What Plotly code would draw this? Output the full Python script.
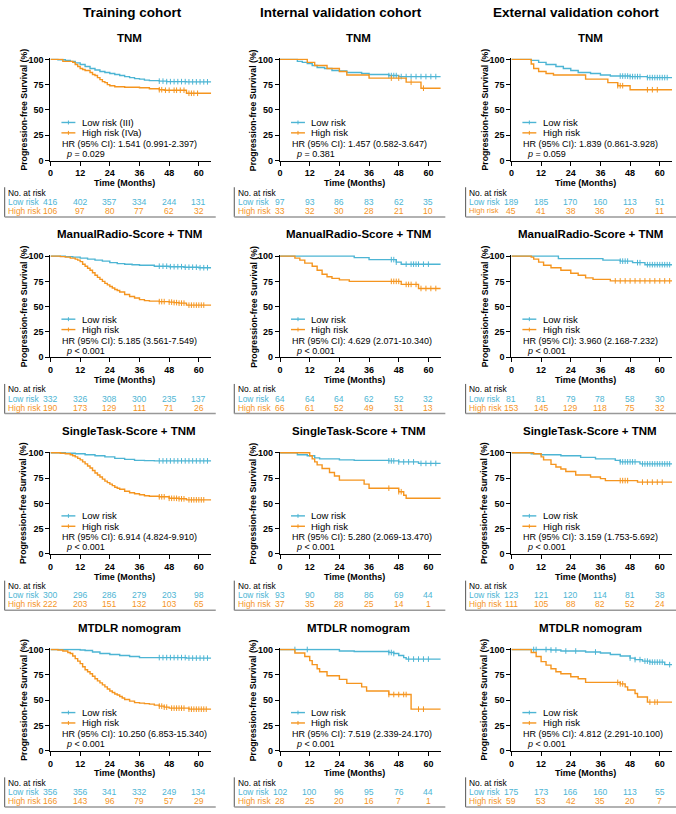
import plotly.graph_objects as go

W, H = 676, 814
LOW_C = "#4DB5D4"
HIGH_C = "#F5951F"
FONT = "Liberation Sans, Arial, sans-serif"

cohorts = ["Training cohort", "Internal validation cohort", "External validation cohort"]
models = ["TNM", "ManualRadio-Score + TNM", "SingleTask-Score + TNM", "MTDLR nomogram"]
months = [0, 12, 24, 36, 48, 60]

# ---- Training cohort: step points (time, survival %) and censor times ----
train_tnm_low_t = [0, 3, 6, 8, 10, 12, 14, 16, 18, 20, 22, 24, 26, 28, 30, 32, 34, 36, 38, 40, 44, 47, 55]
train_tnm_low_s = [100, 99.7, 99, 98, 96.5, 95, 93, 91, 89.5, 88, 87, 86, 85, 84, 83, 82, 81, 80.5, 79.5, 79, 78.5, 78, 77.8]
train_tnm_low_c = [44, 45.5, 47, 48.5, 50, 51.5, 53, 54.5, 56, 57.5, 59, 60.5, 62, 63.5]
train_tnm_high_t = [0, 5, 9, 10, 11, 12, 13, 14, 16, 17, 18, 19, 20, 21, 22, 23, 24, 26, 30, 36, 40, 44, 46, 55]
train_tnm_high_s = [100, 98, 97, 95, 93, 91, 90, 89, 87, 85, 84, 82, 80, 78, 77, 75, 74, 73, 72.5, 72, 71, 70, 69.5, 66.5]
train_tnm_high_c = [44, 45, 46.5, 48, 50, 51, 52.5, 54, 56, 57, 58, 59.5]

train_man_low_t = [0, 6, 9, 12, 15, 18, 21, 24, 27, 30, 33, 36, 42, 48, 54, 60]
train_man_low_s = [100, 99.5, 99, 98, 97, 96, 95, 93.5, 92.5, 92, 91.5, 91, 90, 89.5, 89, 88.5]
train_man_low_c = [44, 45.5, 47, 48.5, 50, 51.5, 53, 54.5, 56, 57.5, 59, 60.5, 62, 63.5]
train_man_high_t = [0, 4, 6, 8, 10, 11, 12, 13, 14, 15, 16, 17, 18, 19, 20, 21, 22, 23, 24, 25, 26, 27, 28, 30, 32, 34, 36, 38, 40, 44, 48, 50, 52, 55]
train_man_high_s = [100, 99.5, 99, 98, 97, 96, 94.5, 92, 90, 88, 86, 83.5, 81, 79, 77, 75, 73, 71.5, 70, 68.5, 67, 66, 64.5, 62, 60, 58.5, 57, 56, 55.5, 55, 54.5, 54, 53.5, 51.5]
train_man_high_c = [44, 45, 46, 48, 49, 50, 51, 52, 53, 54, 56, 57, 58, 59, 60, 61, 62]

train_st_low_t = [0, 6, 10, 14, 18, 22, 26, 30, 34, 38, 42]
train_st_low_s = [100, 99.5, 99, 98, 97, 96, 94.5, 93.5, 92.5, 92.2, 92]
train_st_low_c = [44, 45.5, 47, 48.5, 50, 51.5, 53, 54.5, 56, 57.5, 59, 60.5, 62, 63.5]
train_st_high_t = [0, 4, 6, 8, 9, 10, 11, 12, 13, 14, 15, 16, 17, 18, 19, 20, 21, 22, 23, 24, 25, 26, 27, 28, 30, 32, 34, 36, 38, 40, 44, 48, 52, 55]
train_st_high_s = [100, 99.5, 99, 98, 97, 96, 94.5, 93, 91, 89, 87, 85, 82.5, 80, 78, 76, 74, 72, 70.5, 69, 67.5, 66, 65, 64, 62, 60.5, 59.5, 58.5, 57.5, 57, 56.5, 55, 54.5, 53.5]
train_st_high_c = [44, 45, 46, 48, 49, 50, 51, 52, 53, 54, 56, 57, 58, 59, 60, 61, 62]

train_mt_low_t = [0, 12, 14, 17, 20, 24, 28, 32, 36, 48, 55]
train_mt_low_s = [100, 99.5, 99, 97.5, 96, 95, 94, 93, 92, 92, 91.5]
train_mt_low_c = [44, 45.5, 47, 48.5, 50, 51.5, 53, 54.5, 56, 57.5, 59, 60.5, 62, 63.5]
train_mt_high_t = [0, 3, 5, 7, 8, 9, 10, 11, 12, 13, 14, 15, 16, 17, 18, 19, 20, 21, 22, 23, 24, 25, 26, 27, 28, 29, 30, 32, 34, 36, 38, 40, 42, 44, 46, 48, 56]
train_mt_high_s = [100, 99.5, 98.5, 97, 96, 93.5, 91, 88.5, 86, 83, 80, 78, 76, 73.5, 71, 69, 67, 65, 63, 61, 59, 57.5, 56, 55, 53.5, 52, 50.5, 49, 47.5, 47, 46.5, 46, 45, 44, 43, 42, 41]
train_mt_high_c = [44, 45, 46, 47, 49, 50, 51, 52, 53, 54, 56, 57, 58, 59, 60, 61, 62, 63]

# ---- Internal validation cohort ----
int_tnm_low_t = [0, 7, 9, 11, 13, 15, 18, 21, 24, 27, 33, 36, 44, 48]
int_tnm_low_s = [100, 98, 97, 96, 94, 92, 91, 89, 88.5, 87, 86, 85, 84, 83]
int_tnm_low_c = [44, 45, 46, 47, 49, 51, 53, 55, 57, 59, 61, 63]
int_tnm_high_t = [0, 11, 14, 19, 24, 27, 36, 51, 57]
int_tnm_high_s = [100, 97, 94, 91, 88, 84.5, 81.5, 77.5, 71.5]
int_tnm_high_c = [45, 48, 53, 58]

int_man_low_t = [0, 30, 36, 47, 49]
int_man_low_s = [100, 98.5, 96.5, 94, 92]
int_man_low_c = [45, 46, 47, 51, 53, 54, 55, 56, 58, 60]
int_man_high_t = [0, 6, 8, 10, 13, 15, 17, 19, 21, 24, 28, 49, 56]
int_man_high_s = [100, 98, 96, 93, 90, 86, 82, 79.5, 78, 76.5, 75, 72, 68]
int_man_high_c = [45, 46, 47, 48, 51, 52, 53, 55, 57, 59, 61, 63]

int_st_low_t = [0, 7, 11, 14, 16, 24, 30, 44, 48, 56]
int_st_low_s = [100, 98, 97, 95, 94, 93, 92.5, 92, 91, 89.5]
int_st_low_c = [44, 45, 46, 48, 50, 52, 54, 57, 59, 61, 63]
int_st_high_t = [0, 12, 13, 14, 15, 17, 20, 22, 24, 34, 36, 48, 50, 51]
int_st_high_s = [100, 97, 94, 91, 88, 84.5, 80.5, 77, 73, 69, 65, 61.5, 58, 55]
int_st_high_c = [44, 48, 49]

int_mt_low_t = [0, 24, 30, 44, 46, 48, 50, 51]
int_mt_low_s = [100, 98.5, 98, 97, 96, 94, 92, 90.5]
int_mt_low_c = [6, 11, 44, 45, 46, 52, 54, 56, 58, 60]
int_mt_high_t = [0, 6, 10, 12, 13, 15, 16, 19, 24, 27, 33, 35, 44, 53]
int_mt_high_s = [100, 96.5, 93, 89, 85, 81, 78, 74, 70.5, 66.5, 63, 59, 55.5, 41]
int_mt_high_c = [44, 46, 48, 50, 51, 56, 58]

# ---- External validation cohort ----
ext_tnm_low_t = [0, 8, 11, 14, 18, 21, 24, 27, 32, 36, 40, 48, 55]
ext_tnm_low_s = [100, 99, 97, 95, 93, 91, 89, 87, 86, 84.5, 83.5, 83, 82]
ext_tnm_low_c = [44, 45, 46, 47, 48, 49, 50, 51, 52, 55, 56, 57, 58, 59, 60, 61, 62, 63]
ext_tnm_high_t = [0, 8, 9, 11, 14, 17, 30, 39, 43, 48]
ext_tnm_high_s = [100, 95.5, 91, 88, 86, 84.5, 80.5, 77, 74, 70]
ext_tnm_high_c = [43, 44, 45, 55, 57, 59]

ext_man_low_t = [0, 19, 37, 44, 49, 54]
ext_man_low_s = [100, 97.5, 96, 95, 93.5, 91.5]
ext_man_low_c = [44, 45, 46, 47, 51, 52, 55, 56, 57, 58, 59, 60, 61, 62, 63, 64]
ext_man_high_t = [0, 8, 9, 11, 13, 16, 20, 24, 27, 30, 33, 40]
ext_man_high_s = [100, 99, 97, 94, 91, 88.5, 86, 83, 81, 78.5, 77, 75.5]
ext_man_high_c = [42, 44, 46, 48, 50, 52, 54, 56, 58, 60, 62, 64]

ext_st_low_t = [0, 8, 12, 20, 28, 34, 42, 44, 52]
ext_st_low_s = [100, 99, 98, 97, 95.5, 94, 92.5, 91, 89]
ext_st_low_c = [44, 45, 46, 47, 48, 49, 50, 53, 54, 55, 56, 57, 58, 59, 60, 61, 62, 63, 64]
ext_st_high_t = [0, 9, 12, 13, 16, 18, 20, 22, 26, 32, 36, 38, 51]
ext_st_high_s = [100, 99, 96, 93, 88.5, 86, 84, 81.5, 78, 76, 74.5, 72.5, 71]
ext_st_high_c = [44, 45, 46, 47, 53, 55, 57, 59, 61]

ext_mt_low_t = [0, 16, 20, 30, 36, 40, 44, 48, 50, 53, 56, 62]
ext_mt_low_s = [100, 99.5, 98.5, 97.5, 96.5, 95, 93.5, 91.5, 90, 88.5, 87.5, 85]
ext_mt_low_c = [9, 10, 14, 16, 18, 22, 26, 34, 48, 50, 52, 54, 55, 56, 57, 58, 59, 60, 61, 64]
ext_mt_high_t = [0, 8, 10, 12, 14, 16, 18, 20, 24, 27, 30, 44, 46, 47, 50, 51, 55]
ext_mt_high_s = [100, 97, 93, 88, 84.5, 81, 78, 76, 73, 71, 67.5, 66, 63, 60, 56.5, 53, 48]
ext_mt_high_c = [43, 44, 45, 56, 58, 59]

# ---- numbers at risk (at 0, 12, 24, 36, 48, 60 months) ----
risk_train_low = [[416, 402, 357, 334, 244, 131], [332, 326, 308, 300, 235, 137],
                  [300, 296, 286, 279, 203, 98], [356, 356, 341, 332, 249, 134]]
risk_train_high = [[106, 97, 80, 77, 62, 32], [190, 173, 129, 111, 71, 26],
                   [222, 203, 151, 132, 103, 65], [166, 143, 96, 79, 57, 29]]
risk_int_low = [[97, 93, 86, 83, 62, 35], [64, 64, 64, 62, 52, 32],
                [93, 90, 88, 86, 69, 44], [102, 100, 96, 95, 76, 44]]
risk_int_high = [[33, 32, 30, 28, 21, 10], [66, 61, 52, 49, 31, 13],
                 [37, 35, 28, 25, 14, 1], [28, 25, 20, 16, 7, 1]]
risk_ext_low = [[189, 185, 170, 160, 113, 51], [81, 81, 79, 78, 58, 30],
                [123, 121, 120, 114, 81, 38], [175, 173, 166, 160, 113, 55]]
risk_ext_high = [[45, 41, 38, 36, 20, 11], [153, 145, 129, 118, 75, 32],
                 [111, 105, 88, 82, 52, 24], [59, 53, 42, 35, 20, 7]]

hr_train = ["1.541 (0.991-2.397)", "5.185 (3.561-7.549)", "6.914 (4.824-9.910)", "10.250 (6.853-15.340)"]
hr_int = ["1.457 (0.582-3.647)", "4.629 (2.071-10.340)", "5.280 (2.069-13.470)", "7.519 (2.339-24.170)"]
hr_ext = ["1.839 (0.861-3.928)", "3.960 (2.168-7.232)", "3.159 (1.753-5.692)", "4.812 (2.291-10.100)"]
p_train = ["= 0.029", "< 0.001", "< 0.001", "< 0.001"]
p_int = ["= 0.381", "< 0.001", "< 0.001", "< 0.001"]
p_ext = ["= 0.059", "< 0.001", "< 0.001", "< 0.001"]

curves = [
    [(train_tnm_low_t, train_tnm_low_s, train_tnm_low_c, train_tnm_high_t, train_tnm_high_s, train_tnm_high_c),
     (int_tnm_low_t, int_tnm_low_s, int_tnm_low_c, int_tnm_high_t, int_tnm_high_s, int_tnm_high_c),
     (ext_tnm_low_t, ext_tnm_low_s, ext_tnm_low_c, ext_tnm_high_t, ext_tnm_high_s, ext_tnm_high_c)],
    [(train_man_low_t, train_man_low_s, train_man_low_c, train_man_high_t, train_man_high_s, train_man_high_c),
     (int_man_low_t, int_man_low_s, int_man_low_c, int_man_high_t, int_man_high_s, int_man_high_c),
     (ext_man_low_t, ext_man_low_s, ext_man_low_c, ext_man_high_t, ext_man_high_s, ext_man_high_c)],
    [(train_st_low_t, train_st_low_s, train_st_low_c, train_st_high_t, train_st_high_s, train_st_high_c),
     (int_st_low_t, int_st_low_s, int_st_low_c, int_st_high_t, int_st_high_s, int_st_high_c),
     (ext_st_low_t, ext_st_low_s, ext_st_low_c, ext_st_high_t, ext_st_high_s, ext_st_high_c)],
    [(train_mt_low_t, train_mt_low_s, train_mt_low_c, train_mt_high_t, train_mt_high_s, train_mt_high_c),
     (int_mt_low_t, int_mt_low_s, int_mt_low_c, int_mt_high_t, int_mt_high_s, int_mt_high_c),
     (ext_mt_low_t, ext_mt_low_s, ext_mt_low_c, ext_mt_high_t, ext_mt_high_s, ext_mt_high_c)],
]
risk_low = [risk_train_low, risk_int_low, risk_ext_low]
risk_high = [risk_train_high, risk_int_high, risk_ext_high]
hr_text = [hr_train, hr_int, hr_ext]
p_text = [p_train, p_int, p_ext]

# ---- layout geometry (pixels) ----
col_x0 = [47.7, 278.3, 510.7]
header_x = [130, 340, 576]
row_y100 = [56, 254.9, 453.8, 652.7]
PX_MONTH = 149 / 60.0
PX_PCT = 102.3 / 100.0
XMAX, YMAX = 65, 101


def px(x):
    return x / W


def py(y):
    return 1 - y / H


def step_at(ts, ss, c):
    val = ss[0]
    for t, s in zip(ts, ss):
        if t <= c:
            val = s
    return val


fig = go.Figure()
annotations = []
shapes = []


def txt(x, y, text, size, color="black", xanchor="left", xref="paper", angle=0):
    annotations.append(dict(x=x, y=y, xref=xref, yref="paper", text=text, showarrow=False,
                            xanchor=xanchor, yanchor="middle", textangle=angle,
                            font=dict(family=FONT, size=size, color=color)))


for c, name in enumerate(cohorts):
    txt(px(header_x[c]), py(9), "<b>" + name + "</b>", 13.5, xanchor="center")

n = 0
for r in range(4):
    for c in range(3):
        n += 1
        sfx = "" if n == 1 else str(n)
        x0 = col_x0[c]
        y0 = row_y100[r] + 100 * PX_PCT
        xr = x0 + XMAX * PX_MONTH
        ytop = y0 - YMAX * PX_PCT
        axis_style = dict(showline=True, linecolor="black", linewidth=1.3, ticks="outside",
                          ticklen=4, tickwidth=1.3, tickcolor="black", showgrid=False, zeroline=False,
                          tickfont=dict(family=FONT, size=9, color="black", weight="bold"))
        fig.update_layout({
            "xaxis" + sfx: dict(domain=[px(x0), px(xr)], range=[0, XMAX], tickvals=months,
                                anchor="y" + sfx, **axis_style),
            "yaxis" + sfx: dict(domain=[py(y0), py(ytop)], range=[0, YMAX], tickvals=[0, 25, 50, 75, 100],
                                anchor="x" + sfx, **axis_style),
        })
        lt, ls, lc, ht, hs, hc = curves[r][c]
        for ts, ss, cs, col in ((lt, ls, lc, LOW_C), (ht, hs, hc, HIGH_C)):
            fig.add_trace(go.Scatter(x=ts + [XMAX], y=ss + [ss[-1]], mode="lines",
                                     line=dict(color=col, width=1.4, shape="hv"),
                                     xaxis="x" + sfx, yaxis="y" + sfx, showlegend=False, cliponaxis=False))
            fig.add_trace(go.Scatter(x=cs, y=[step_at(ts, ss, v) for v in cs], mode="markers",
                                     marker=dict(symbol="line-ns-open", size=4, color=col,
                                                 line=dict(color=col, width=1)),
                                     xaxis="x" + sfx, yaxis="y" + sfx, showlegend=False, cliponaxis=False))

        xref = "x" + sfx
        # panel title
        txt(px(x0 + 79), py(row_y100[r] - 22), "<b>" + models[r] + "</b>", 11.5, xanchor="center")
        # y title
        txt(px(x0 - 27), py((y0 + row_y100[r]) / 2), "<b>Progression-free Survival (%)</b>", 8.7,
            xanchor="center", angle=-90)
        # x title
        txt(30, py(y0 + 23), "<b>Time (Months)</b>", 9, xanchor="center", xref=xref)

        # legend
        if r == 0 and c == 0:
            names = ["Low risk (III)", "High risk (IVa)"]
        else:
            names = ["Low risk", "High risk"]
        for k, (nm, col) in enumerate(zip(names, [LOW_C, HIGH_C])):
            ly = y0 - 38.5 + 10.5 * k
            shapes.append(dict(type="line", xref="paper", yref="paper", x0=px(x0 + 11), x1=px(x0 + 25),
                               y0=py(ly), y1=py(ly), line=dict(color=col, width=1.4)))
            shapes.append(dict(type="line", xref="paper", yref="paper", x0=px(x0 + 18), x1=px(x0 + 18),
                               y0=py(ly - 2), y1=py(ly + 2), line=dict(color=col, width=1)))
            txt(px(x0 + 29.5), py(ly), nm, 9.5)
        txt(px(x0 + 10), py(y0 - 16.7), "HR (95% CI): " + hr_text[c][r], 9)
        txt(px(x0 + 13.5), py(y0 - 6.7), "<i>p</i> " + p_text[c][r], 9)

        # risk table
        lx = x0 - 44.5
        txt(px(lx), py(y0 + 32.5), "No. at risk", 8.4)
        txt(px(lx), py(y0 + 42), "Low risk", 8.4, color=LOW_C)
        txt(px(lx), py(y0 + 51), "High risk", 7.6 if (r == 0 and c == 2) else 8.4, color=HIGH_C)
        for m, vl, vh in zip(months, risk_low[c][r], risk_high[c][r]):
            txt(m, py(y0 + 42), str(vl), 8.6, color=LOW_C, xanchor="center", xref=xref)
            txt(m, py(y0 + 51), str(vh), 8.6, color=HIGH_C, xanchor="center", xref=xref)
        shapes.append(dict(type="line", xref="paper", yref="paper", x0=px(x0 - 46), x1=px(x0 - 46),
                           y0=py(y0 + 27), y1=py(y0 + 57), line=dict(color="#555555", width=1)))
        shapes.append(dict(type="line", xref="paper", yref="paper", x0=px(x0 - 46), x1=px(x0 + 166),
                           y0=py(y0 + 57), y1=py(y0 + 57), line=dict(color="#999999", width=1.5)))

fig.update_layout(width=W, height=H, margin=dict(l=0, r=0, t=0, b=0),
                  paper_bgcolor="white", plot_bgcolor="white",
                  annotations=annotations, shapes=shapes, showlegend=False,
                  font=dict(family=FONT))

# remove the default page margin so the figure sits at the window's top-left corner
fig.write_html("out.html", config={"displayModeBar": False},
               post_script="document.body.style.margin='0';")
